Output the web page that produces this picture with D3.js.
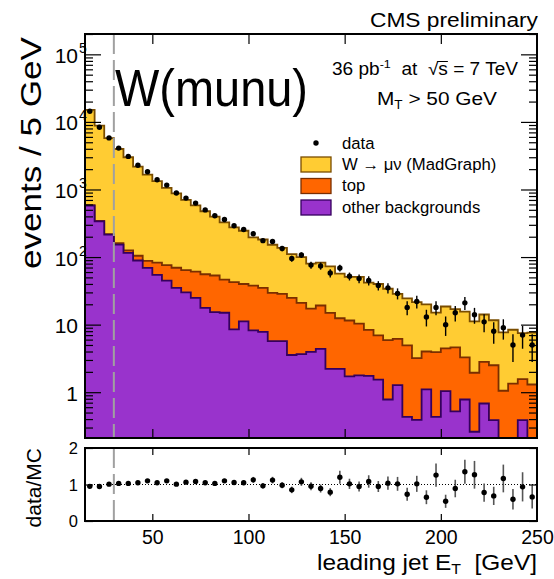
<!DOCTYPE html>
<html>
<head>
<meta charset="utf-8">
<script src="https://cdn.jsdelivr.net/npm/d3@7"></script>
<style>
    body { margin: 0; background: #fff; }
    text { font-family: "Liberation Sans", Arial, Helvetica, sans-serif; fill: #000; }
</style>
</head>
<body>
<div id="chart"></div>
<script>
// leading jet ET bins, 5 GeV wide (low edges)
var binLow = [15, 20, 25, 30, 35, 40, 45, 50, 55, 60, 65, 70, 75, 80, 85, 90, 95, 100, 105, 110,
    115, 120, 125, 130, 135, 140, 145, 150, 155, 160, 165, 170, 175, 180, 185, 190, 195, 200,
    205, 210, 215, 220, 225, 230, 235, 240, 245];
var binWidth = 5;

// MC per bin (events / 5 GeV)
var wmunu = [14450, 8455, 5520, 3815, 2874, 2075, 1574, 1247, 979, 806, 637, 520, 421, 343, 280,
    232, 205, 158, 147, 122.5, 108.5, 86, 79, 62.7, 63.8, 58, 44.6, 39.5, 40.6, 33.6, 33, 28.1,
    22.3, 19.6, 18.4, 16, 11.1, 14.1, 12.3, 12.3, 9.2, 11.3, 9.1, 6.65, 7.06, 5.94, 6.3];
var topq = [6, 4, 4, 7, 11, 15.5, 18.9, 28.6, 31.3, 34.5, 34.1, 36.1, 38, 38, 31.5, 34.2, 28.7,
    29.7, 27.2, 23.8, 22.8, 21.3, 17.3, 13.3, 14.8, 12.7, 10.2, 9.8, 8.6, 6.6, 5.4, 5.1, 4.9, 4.5,
    2.8, 2.9, 3.5, 3.4, 4.1, 2.5, 1.68, 2.14, 2.12, 1.05, 1.34, 1.18, 1.3];
var other = [578, 338, 215, 153, 115, 89, 69, 54.4, 44.9, 35, 30.1, 24.9, 17.7, 15.3, 15, 8.5,
    11.2, 8.2, 7.8, 5.7, 5.7, 3.55, 3.67, 3.96, 4.39, 2.22, 2.22, 1.71, 1.78, 1.74, 1.54, 0.78,
    1.27, 0.43, 0.39, 1.1, 0.43, 1.04, 0.52, 0.78, 0.26, 0.68, 0.385, 0, 0, 0.385, 0];

// data
var data = [14350, 8320, 5800, 4095, 3090, 2280, 1828, 1391, 1161, 885, 746, 629, 499, 408, 360,
    290, 256, 221, 175, 170, 134, 95, 107, 76, 74, 58, 69, 52, 48, 45, 38, 35, 29, 18, 22, 13, 18,
    10, 15, 21, 14, 11, 8, 9, 5, 7, 5];
var dataErr = [120, 91, 76, 64, 56, 48, 43, 37, 34, 30, 27, 25, 22, 20, 19, 17, 16, 15, 13, 13, 12,
    10, 10, 9, 9, 8, 8, 7, 7, 7, 6, 6, 5.4, 4.2, 4.7, 3.6, 4.2, 3.2, 3.9, 4.6, 3.7, 3.3, 2.8, 3,
    2.2, 2.6, 2.2];

// data / MC
var ratio = [0.95, 0.945, 1.01, 1.03, 1.03, 1.046, 1.10, 1.046, 1.10, 1.01, 1.064, 1.083, 1.046,
    1.03, 1.10, 1.055, 1.046, 1.128, 0.963, 1.12, 0.98, 0.853, 1.073, 0.954, 0.89, 0.79, 1.20,
    1.018, 0.945, 1.083, 0.945, 1.037, 1.018, 0.734, 1.018, 0.651, 1.257, 0.54, 0.89, 1.349,
    1.266, 0.78, 0.688, 1.165, 0.596, 0.936, 0.66];
var ratioErr = [0.01, 0.01, 0.013, 0.016, 0.018, 0.021, 0.024, 0.027, 0.03, 0.034, 0.037, 0.04,
    0.045, 0.05, 0.053, 0.06, 0.063, 0.08, 0.075, 0.09, 0.085, 0.09, 0.11, 0.11, 0.11, 0.11, 0.18,
    0.14, 0.14, 0.17, 0.15, 0.18, 0.19, 0.18, 0.22, 0.19, 0.32, 0.18, 0.24, 0.33, 0.38, 0.25, 0.25,
    0.38, 0.28, 0.4, 0.32];

var xTicks = [50, 100, 150, 200, 250];
var yMajor = [1, 10, 100, 1000, 10000, 100000];
var yLabels = [["1", ""], ["10", ""], ["10", "2"], ["10", "3"], ["10", "4"], ["10", "5"]];
var rTicks = [0, 1, 2];
var cutET = 30;

var legendNames = ["W \u2192 \u03bc\u03bd (MadGraph)", "top", "other backgrounds"];
var fills = { wmunu: "#ffcc33", topq: "#ff6600", other: "#9933cc" };
var lines = { wmunu: "#7a4d00", topq: "#7a2e00", other: "#35005e" };

/*---------------------------------------------------------------------------------------*/

var width = 554, height = 579;
var left = 85, right = 537,
    mainTop = 34, mainBot = 438,
    ratTop = 448, ratBot = 521;

var svg = d3.select("#chart").append("svg")
    .attr("width", width)
    .attr("height", height);

var xScale = d3.scaleLinear().domain([15, 250]).range([left, right]);
var yScale = d3.scaleLog().domain([0.21, 2e5]).range([mainBot, mainTop]).clamp(true);
var rScale = d3.scaleLinear().domain([0, 2]).range([ratBot, ratTop]);

svg.append("clipPath").attr("id", "clipMain")
    .append("rect").attr("x", left).attr("y", mainTop).attr("width", right - left).attr("height", mainBot - mainTop);
svg.append("clipPath").attr("id", "clipRat")
    .append("rect").attr("x", left).attr("y", ratTop).attr("width", right - left).attr("height", ratBot - ratTop);

// stacked histogram
var rows = binLow.map(function (lo, i) {
    return { lo: lo, other: other[i], topq: topq[i], wmunu: wmunu[i] };
});
var layers = d3.stack().keys(["other", "topq", "wmunu"])(rows);

var main = svg.append("g").attr("clip-path", "url(#clipMain)");

function stepPoints(layer) {
    var pts = layer.map(function (d, i) { return [binLow[i], d[1]]; });
    pts.push([binLow[binLow.length - 1] + binWidth, layer[layer.length - 1][1]]);
    return pts;
}

var area = d3.area().curve(d3.curveStepAfter)
    .x(function (p) { return xScale(p[0]); })
    .y0(mainBot + 2)
    .y1(function (p) { return yScale(p[1]); });
var stepLine = d3.line().curve(d3.curveStepAfter)
    .x(function (p) { return xScale(p[0]); })
    .y(function (p) { return yScale(p[1]); });

layers.slice().reverse().forEach(function (layer) {
    var pts = stepPoints(layer);
    main.append("path").attr("d", area(pts)).attr("fill", fills[layer.key]);
    main.append("path").attr("d", stepLine(pts))
        .attr("fill", "none")
        .attr("stroke", lines[layer.key])
        .attr("stroke-width", 1.8);
});

// cut line
[[mainTop, mainBot], [ratTop, ratBot]].forEach(function (r) {
    svg.append("line")
        .attr("x1", xScale(cutET)).attr("x2", xScale(cutET))
        .attr("y1", r[0]).attr("y2", r[1])
        .attr("stroke", "#a0a0a0")
        .attr("stroke-width", 2)
        .attr("stroke-dasharray", "20,6");
});

// data points
var pts = main.selectAll(".pt")
    .data(data)
    .enter()
    .append("g")
    .attr("class", "pt");
pts.append("line")
    .attr("x1", function (d, i) { return xScale(binLow[i] + binWidth / 2); })
    .attr("x2", function (d, i) { return xScale(binLow[i] + binWidth / 2); })
    .attr("y1", function (d, i) { return yScale(d + dataErr[i]); })
    .attr("y2", function (d, i) { return yScale(Math.max(d - dataErr[i], 0.22)); })
    .attr("stroke", "#000")
    .attr("stroke-width", 1.4);
pts.append("circle")
    .attr("cx", function (d, i) { return xScale(binLow[i] + binWidth / 2); })
    .attr("cy", function (d) { return yScale(d); })
    .attr("r", 2.7)
    .attr("fill", "#000");

// ratio panel
var rat = svg.append("g").attr("clip-path", "url(#clipRat)");
rat.append("line")
    .attr("x1", left).attr("x2", right)
    .attr("y1", rScale(1)).attr("y2", rScale(1))
    .attr("stroke", "#000")
    .attr("stroke-width", 1)
    .attr("stroke-dasharray", "1,2");
var rpts = rat.selectAll(".rpt")
    .data(ratio)
    .enter()
    .append("g")
    .attr("class", "rpt");
rpts.append("line")
    .attr("x1", function (d, i) { return xScale(binLow[i] + binWidth / 2); })
    .attr("x2", function (d, i) { return xScale(binLow[i] + binWidth / 2); })
    .attr("y1", function (d, i) { return rScale(d + ratioErr[i]); })
    .attr("y2", function (d, i) { return rScale(d - ratioErr[i]); })
    .attr("stroke", "#555")
    .attr("stroke-width", 1.6);
rpts.append("circle")
    .attr("cx", function (d, i) { return xScale(binLow[i] + binWidth / 2); })
    .attr("cy", function (d) { return rScale(d); })
    .attr("r", 2.7)
    .attr("fill", "#000");

// axes: ROOT style, ticks pointing inwards
function tickAxis(axis, tr) {
    var g = svg.append("g").attr("transform", tr).call(axis);
    g.select(".domain").remove();
    g.selectAll(".tick line").attr("stroke", "#000").attr("stroke-width", 1.2);
    return g;
}
var xInner = xTicks.slice(0, 4);
tickAxis(d3.axisBottom(xScale).tickValues(xInner).tickSize(-9).tickFormat(""), "translate(0," + mainBot + ")");
tickAxis(d3.axisTop(xScale).tickValues(xInner).tickSize(-10).tickFormat(""), "translate(0," + mainTop + ")");
tickAxis(d3.axisTop(xScale).tickValues(xInner).tickSize(-7).tickFormat(""), "translate(0," + ratTop + ")");

var xg = tickAxis(d3.axisBottom(xScale).tickValues(xTicks).tickSize(-7).tickPadding(9), "translate(0," + ratBot + ")");
xg.selectAll(".tick text")
    .attr("font-size", 19.5)
    .style("font-family", "Liberation Sans, Arial, sans-serif");
xg.selectAll(".tick").filter(function (d) { return d === 250; }).select("line").remove();

var yMinor = yScale.ticks().filter(function (t) { return yMajor.indexOf(t) < 0; });
tickAxis(d3.axisLeft(yScale).tickValues(yMajor).tickSize(-16).tickFormat(""), "translate(" + left + ",0)");
tickAxis(d3.axisLeft(yScale).tickValues(yMinor).tickSize(-8).tickFormat(""), "translate(" + left + ",0)");
tickAxis(d3.axisRight(yScale).tickValues(yMajor).tickSize(-16).tickFormat(""), "translate(" + right + ",0)");
tickAxis(d3.axisRight(yScale).tickValues(yMinor).tickSize(-8).tickFormat(""), "translate(" + right + ",0)");

tickAxis(d3.axisLeft(rScale).tickValues(rTicks).tickSize(-8).tickFormat(""), "translate(" + left + ",0)");
tickAxis(d3.axisRight(rScale).tickValues(rTicks).tickSize(-8).tickFormat(""), "translate(" + right + ",0)");

// log labels 1, 10, 10^2 ...
yMajor.forEach(function (v, i) {
    var y = yScale(v);
    svg.append("text")
        .attr("x", 78).attr("y", y + 8.5)
        .attr("text-anchor", "end")
        .attr("font-size", 21)
        .text(yLabels[i][0]);
    if (yLabels[i][1]) {
        svg.append("text")
            .attr("x", 79).attr("y", y - 1.5)
            .attr("font-size", 14)
            .text(yLabels[i][1]);
    }
});

rTicks.forEach(function (v) {
    svg.append("text")
        .attr("x", 78).attr("y", rScale(v) + 6)
        .attr("text-anchor", "end")
        .attr("font-size", 16.5)
        .text(v);
});

// frames
[[mainTop, mainBot], [ratTop, ratBot]].forEach(function (r) {
    svg.append("rect")
        .attr("x", left).attr("y", r[0])
        .attr("width", right - left).attr("height", r[1] - r[0])
        .attr("fill", "none")
        .attr("stroke", "#000")
        .attr("stroke-width", 2);
});

// titles
svg.append("text")
    .attr("transform", "translate(41,37) rotate(-90)")
    .attr("text-anchor", "end")
    .attr("font-size", 29)
    .attr("textLength", 232)
    .attr("lengthAdjust", "spacingAndGlyphs")
    .text("events / 5 GeV");

svg.append("text")
    .attr("transform", "translate(41,448) rotate(-90)")
    .attr("text-anchor", "end")
    .attr("font-size", 21)
    .text("data/MC");

var xt = svg.append("text")
    .attr("x", right).attr("y", 570)
    .attr("text-anchor", "end")
    .attr("font-size", 21.5)
    .attr("xml:space", "preserve")
    .attr("textLength", 220)
    .attr("lengthAdjust", "spacingAndGlyphs");
xt.append("tspan").text("leading jet E");
xt.append("tspan").attr("font-size", 14).attr("dy", 4).text("T");
xt.append("tspan").attr("dy", -4).text("  [GeV]");

svg.append("text")
    .attr("x", 538).attr("y", 26.5)
    .attr("text-anchor", "end")
    .attr("font-size", 20)
    .attr("textLength", 168)
    .attr("lengthAdjust", "spacingAndGlyphs")
    .text("CMS preliminary");

svg.append("text")
    .attr("x", 115).attr("y", 106)
    .attr("font-size", 52)
    .attr("textLength", 193)
    .attr("lengthAdjust", "spacingAndGlyphs")
    .text("W(munu)");

// luminosity / energy
var lum = svg.append("text")
    .attr("x", 332).attr("y", 75)
    .attr("font-size", 17.5)
    .attr("xml:space", "preserve")
    .attr("textLength", 186)
    .attr("lengthAdjust", "spacingAndGlyphs");
lum.append("tspan").text("36 pb");
lum.append("tspan").attr("font-size", 11.5).attr("dy", -7).text("-1");
lum.append("tspan").attr("dy", 7).text("  at  \u221A");
lum.append("tspan").text("s");
lum.append("tspan").text(" = 7 TeV");
var full = lum.node().textContent;
var sIdx = full.indexOf("\u221A") + 1;
var ext = lum.node().getExtentOfChar(sIdx);
svg.append("line")
    .attr("x1", ext.x - 1).attr("x2", ext.x + ext.width)
    .attr("y1", 75 - 13.5).attr("y2", 75 - 13.5)
    .attr("stroke", "#000").attr("stroke-width", 1);

var mt = svg.append("text")
    .attr("x", 377).attr("y", 105)
    .attr("font-size", 18.5)
    .attr("xml:space", "preserve")
    .attr("textLength", 120)
    .attr("lengthAdjust", "spacingAndGlyphs");
mt.append("tspan").text("M");
mt.append("tspan").attr("font-size", 12).attr("dy", 4).text("T");
mt.append("tspan").attr("dy", -4).text(" > 50 GeV");

// legend
var leg = svg.append("g").attr("class", "legend");
leg.append("circle").attr("cx", 316).attr("cy", 143).attr("r", 2.7).attr("fill", "#000");
leg.append("text").attr("x", 342).attr("y", 148.5).attr("font-size", 16.7).text("data");
["wmunu", "topq", "other"].forEach(function (k, i) {
    var y = 157 + i * 21.5;
    leg.append("rect")
        .attr("x", 301).attr("y", y)
        .attr("width", 30).attr("height", 15)
        .attr("fill", fills[k])
        .attr("stroke", lines[k])
        .attr("stroke-width", 1.3);
    leg.append("text")
        .attr("x", 342).attr("y", y + 12.5)
        .attr("font-size", 16.7)
        .text(legendNames[i]);
});
</script>
</body>
</html>
